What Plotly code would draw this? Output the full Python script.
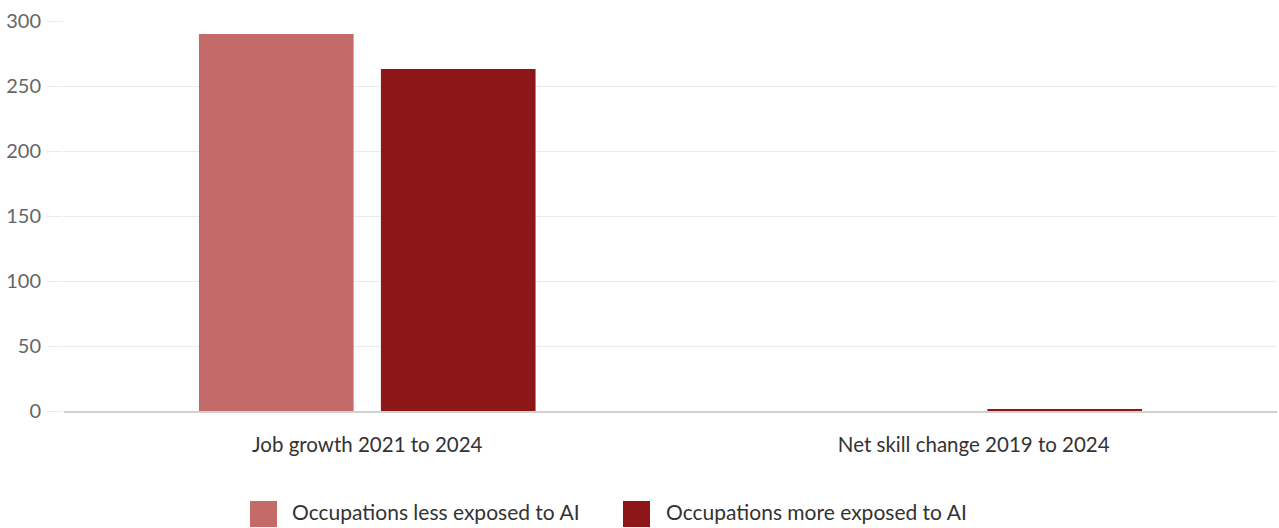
import plotly.graph_objects as go

categories = ["Job growth 2021 to 2024", "Net skill change 2019 to 2024"]
series_names = ["Occupations less exposed to AI", "Occupations more exposed to AI"]
less_exposed = [290, 0]
more_exposed = [263, 1.0]
y_ticks = [0, 50, 100, 150, 200, 250, 300]

colors = ["#c46a68", "#8c1618"]
FONT = "Lato"

W, H = 1279, 528
L, R, T, B = 64, 2, 21, 117
pw, ph = W - L - R, H - T - B

fig = go.Figure()
for name, vals, col in zip(series_names, [less_exposed, more_exposed], colors):
    fig.add_trace(go.Bar(x=categories, y=vals, name=name, marker_color=col,
                         marker_line_width=0, showlegend=False))

# custom legend (large square swatches)
def px2x(p):
    return (p - L) / pw

def py2y(p):
    return (H - B - p) / ph

legend_items = [(250, 290), (623, 664)]
for (sx, tx), name, col in zip(legend_items, series_names, colors):
    fig.add_shape(type="rect", xref="paper", yref="paper",
                  x0=px2x(sx), x1=px2x(sx + 27), y0=py2y(501), y1=py2y(527),
                  fillcolor=col, line_width=0)
    fig.add_annotation(xref="paper", yref="paper", x=px2x(tx), y=py2y(511),
                       xanchor="left", yanchor="middle", text=name, showarrow=False,
                       font=dict(family=FONT, size=21, color="#333333"))

fig.update_layout(
    width=W, height=H,
    margin=dict(l=L, r=R, t=T, b=B, pad=0),
    plot_bgcolor="white", paper_bgcolor="white",
    barmode="group", bargap=0.4, bargroupgap=0.15,
    showlegend=False,
    font=dict(family=FONT, size=16, color="#666666"),
)
fig.update_xaxes(showgrid=False, showline=True, linecolor="#d0d0cc", linewidth=2,
                 tickfont=dict(family=FONT, size=20.5, color="#333333"), ticks="",
                 ticklabelstandoff=14)
fig.update_yaxes(range=[0, 300], tickvals=y_ticks, showgrid=True, gridcolor="#ebebeb",
                 gridwidth=1, zeroline=False, showline=False,
                 ticks="outside", ticklen=16, tickcolor="#ebebeb",
                 ticklabelstandoff=2,
                 tickfont=dict(family=FONT, size=20, color="#666666"))

fig.write_html("out.html")
